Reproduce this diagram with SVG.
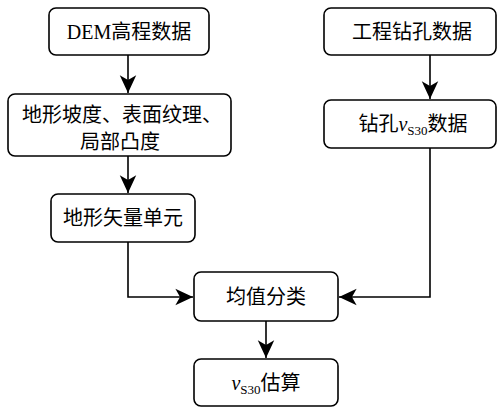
<svg xmlns="http://www.w3.org/2000/svg" width="497" height="407" viewBox="0 0 497 407">
<style>
.box{fill:#fff;stroke:#000;stroke-width:1.6}
.t{font-family:"Liberation Serif","Noto Sans CJK SC",serif;font-size:20px;fill:#000;text-anchor:middle}
.i{font-style:italic}
.s{font-size:13px}
.c{fill:none;stroke:#000;stroke-width:1.6}
</style>
<defs>
<marker id="a" markerUnits="userSpaceOnUse" markerWidth="20" markerHeight="20" viewBox="-16 -8 17 16" refX="0" refY="0" orient="auto">
<path d="M0,0 L-15,-7 L-11,0 L-15,7 Z" fill="#000"/>
</marker>
</defs>
<g id="connectors">
<path class="c" d="M128,55 V93" marker-end="url(#a)"/>
<path class="c" d="M128,156 V193" marker-end="url(#a)"/>
<path class="c" d="M128,242 V297 H193" marker-end="url(#a)"/>
<path class="c" d="M430,148 V297 H339" marker-end="url(#a)"/>
<path class="c" d="M430,55 V99" marker-end="url(#a)"/>
<path class="c" d="M266,321 V358" marker-end="url(#a)"/>
</g>
<g id="dem">
<rect class="box" x="49" y="8" width="160" height="47" rx="7"/>
<text class="t" x="129" y="39">DEM高程数据</text>
</g>
<g id="terrain">
<rect class="box" x="8" y="94" width="223" height="62" rx="7"/>
<text class="t" x="122" y="122">地形坡度、表面纹理、</text>
<text class="t" x="120" y="149">局部凸度</text>
</g>
<g id="unit">
<rect class="box" x="51" y="194" width="144" height="48" rx="7"/>
<text class="t" x="123" y="225">地形矢量单元</text>
</g>
<g id="classify">
<rect class="box" x="194" y="272" width="144" height="49" rx="7"/>
<text class="t" x="266" y="304">均值分类</text>
</g>
<g id="estimate">
<rect class="box" x="194" y="359" width="144" height="47" rx="7"/>
<text class="t" x="266" y="390"><tspan class="i">v</tspan><tspan class="s" dy="4">S30</tspan><tspan dy="-4">估算</tspan></text>
</g>
<g id="borehole">
<rect class="box" x="324" y="8" width="172" height="47" rx="7"/>
<text class="t" x="412" y="39">工程钻孔数据</text>
</g>
<g id="vs30">
<rect class="box" x="324" y="100" width="172" height="48" rx="7"/>
<text class="t" x="413" y="131">钻孔<tspan class="i">v</tspan><tspan class="s" dy="4">S30</tspan><tspan dy="-4">数据</tspan></text>
</g>
</svg>
